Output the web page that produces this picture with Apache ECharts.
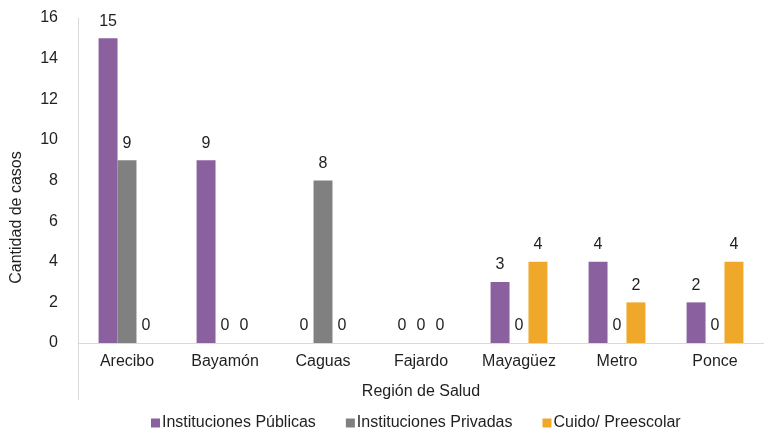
<!DOCTYPE html>
<html><head><meta charset="utf-8">
<script src="https://cdn.jsdelivr.net/npm/echarts@6/dist/echarts.min.js"></script>
<style>html,body{margin:0;padding:0;background:#fff}#c{width:764px;height:430px}</style>
</head><body><div id="c"></div>
<script>
const categories = ['Arecibo','Bayamón','Caguas','Fajardo','Mayagüez','Metro','Ponce'];
const publicas = [15, 9, 0, 0, 3, 4, 2];
const privadas = [9, 0, 8, 0, 0, 0, 0];
const cuido = [0, 0, 0, 0, 4, 2, 4];
const seriesNames = ['Instituciones Públicas','Instituciones Privadas','Cuido/ Preescolar'];
const yTicks = {min: 0, max: 16, interval: 2};

const font = 'Liberation Sans, Arial, sans-serif';
const txt = '#1f1f1f';
const fs = 16;
const chart = echarts.init(document.getElementById('c'), null, {renderer: 'canvas'});
const lbl = {show: true, position: 'top', distance: 9, color: txt, fontSize: fs, fontFamily: font};
const mk = (name, data, color) => ({name, type: 'bar', data, barGap: '0%', barCategoryGap: '42%',
  itemStyle: {color}, label: lbl, emphasis: {disabled: true}});
chart.setOption({
  animation: false,
  grid: {left: 78, right: 0, top: 18, bottom: 87, containLabel: false},
  legend: {top: 410, left: 146, itemWidth: 9, itemHeight: 9, itemGap: 30, icon: 'rect',
    textStyle: {color: txt, fontSize: fs, fontFamily: font, padding: [0,0,0,-3]},
    data: seriesNames},
  xAxis: {type: 'category', data: categories,
    axisLine: {lineStyle: {color: '#D9D9D9', width: 1}}, axisTick: {show: false},
    axisLabel: {color: txt, fontSize: fs, fontFamily: font, margin: 11},
    name: 'Región de Salud', nameLocation: 'middle', nameGap: 41,
    nameTextStyle: {color: txt, fontSize: fs, fontFamily: font}},
  yAxis: {type: 'value', min: yTicks.min, max: yTicks.max, interval: yTicks.interval,
    axisLine: {show: true, lineStyle: {color: '#D9D9D9'}}, axisTick: {show: false},
    splitLine: {show: false},
    axisLabel: {color: txt, fontSize: fs, fontFamily: font, margin: 20},
    name: 'Cantidad de casos', nameLocation: 'middle', nameGap: 53,
    nameTextStyle: {color: txt, fontSize: fs, fontFamily: font, padding: [0, 74, 0, 0]}},
  graphic: [{type: 'line', shape: {x1: 78.5, y1: 343, x2: 78.5, y2: 400}, style: {stroke: '#D9D9D9', lineWidth: 1}}],
  series: [mk(seriesNames[0], publicas, '#8A609E'), mk(seriesNames[1], privadas, '#808080'), mk(seriesNames[2], cuido, '#F0A82A')]
});
</script></body></html>
